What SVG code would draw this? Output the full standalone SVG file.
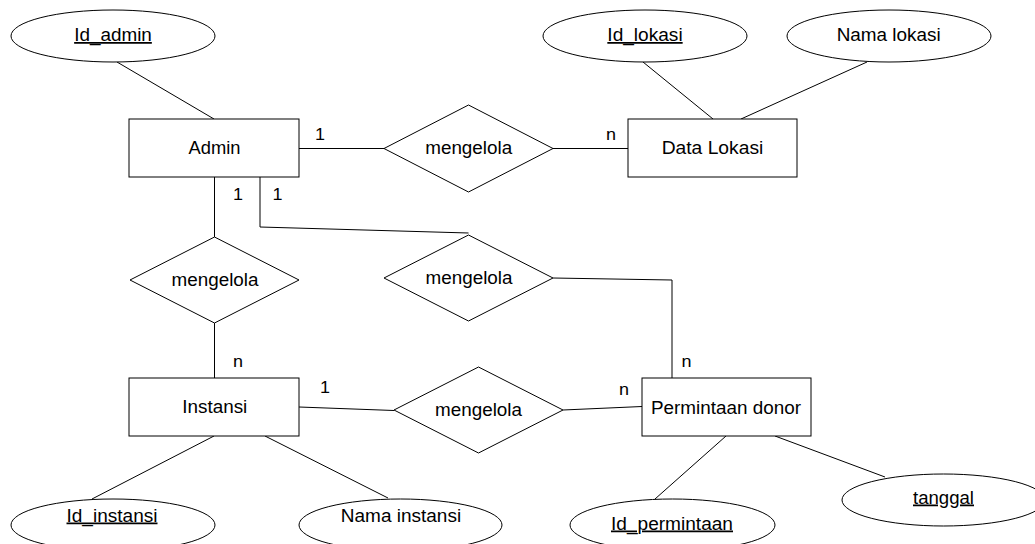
<svg xmlns="http://www.w3.org/2000/svg" width="1035" height="544" viewBox="0 0 1035 544">
  <style>
    .shape { fill: #ffffff; stroke: #000000; stroke-width: 1; }
    .conn { fill: none; stroke: #000000; stroke-width: 1; }
    text { font-family: "Liberation Sans", Arial, sans-serif; fill: #000000; }
    .lbl { font-size: 17.5px; text-anchor: middle; }
    .key { text-decoration: underline; }
    .card { font-size: 16px; text-anchor: middle; }
  </style>
  <rect width="1035" height="544" fill="#ffffff"/>

  <!-- connectors -->
  <g id="connectors">
    <line class="conn" x1="117" y1="62" x2="214" y2="119"/>
    <line class="conn" x1="299" y1="148.5" x2="384" y2="148.5"/>
    <line class="conn" x1="553" y1="148.5" x2="628" y2="148.5"/>
    <line class="conn" x1="643" y1="62" x2="713" y2="119"/>
    <line class="conn" x1="867" y1="62" x2="741" y2="119"/>
    <line class="conn" x1="214.5" y1="177" x2="214.5" y2="237"/>
    <line class="conn" x1="214.5" y1="323" x2="214.5" y2="378"/>
    <polyline class="conn" points="260,177 260,227 468.5,233"/>
    <polyline class="conn" points="553,278 672,280 672,378"/>
    <line class="conn" x1="299" y1="407" x2="394" y2="410.5"/>
    <line class="conn" x1="563" y1="410" x2="642" y2="406.5"/>
    <line class="conn" x1="214" y1="436" x2="92" y2="499"/>
    <line class="conn" x1="265" y1="436" x2="388" y2="498"/>
    <line class="conn" x1="726" y1="436" x2="655" y2="499"/>
    <line class="conn" x1="775" y1="436" x2="885" y2="477"/>
  </g>

  <!-- cardinality labels -->
  <g id="cardinalities">
    <text class="card" x="320" y="139.5" textLength="10" lengthAdjust="spacingAndGlyphs">1</text>
    <text class="card" x="611" y="140" textLength="10" lengthAdjust="spacingAndGlyphs">n</text>
    <text class="card" x="238" y="199.5" textLength="10" lengthAdjust="spacingAndGlyphs">1</text>
    <text class="card" x="277.5" y="199.5" textLength="10" lengthAdjust="spacingAndGlyphs">1</text>
    <text class="card" x="238" y="366.5" textLength="10" lengthAdjust="spacingAndGlyphs">n</text>
    <text class="card" x="686.5" y="366.5" textLength="10" lengthAdjust="spacingAndGlyphs">n</text>
    <text class="card" x="325" y="393" textLength="10" lengthAdjust="spacingAndGlyphs">1</text>
    <text class="card" x="624" y="395" textLength="10" lengthAdjust="spacingAndGlyphs">n</text>
  </g>

  <!-- entities -->
  <g id="admin">
    <rect class="shape" x="129" y="119" width="170" height="58"/>
    <text class="lbl" x="214.5" y="154" textLength="52" lengthAdjust="spacingAndGlyphs">Admin</text>
  </g>
  <g id="data-lokasi">
    <rect class="shape" x="628" y="119" width="169" height="58"/>
    <text class="lbl" x="712.5" y="153.5" textLength="101.6" lengthAdjust="spacingAndGlyphs">Data Lokasi</text>
  </g>
  <g id="instansi">
    <rect class="shape" x="129" y="378" width="170" height="58"/>
    <text class="lbl" x="214.8" y="412.5" textLength="65" lengthAdjust="spacingAndGlyphs">Instansi</text>
  </g>
  <g id="permintaan-donor">
    <rect class="shape" x="642" y="378" width="169" height="58"/>
    <text class="lbl" x="726" y="413.5" textLength="150" lengthAdjust="spacingAndGlyphs">Permintaan donor</text>
  </g>

  <!-- relationships -->
  <g id="rel-admin-lokasi">
    <polygon class="shape" points="384,148.5 468.5,105 553,148.5 468.5,192"/>
    <text class="lbl" x="468.7" y="154" textLength="87" lengthAdjust="spacingAndGlyphs">mengelola</text>
  </g>
  <g id="rel-admin-instansi">
    <polygon class="shape" points="130,280 214.5,237 299,280 214.5,323"/>
    <text class="lbl" x="215" y="286" textLength="87" lengthAdjust="spacingAndGlyphs">mengelola</text>
  </g>
  <g id="rel-admin-permintaan">
    <polygon class="shape" points="384,278 468.5,235 553,278 468.5,321"/>
    <text class="lbl" x="469" y="284" textLength="87" lengthAdjust="spacingAndGlyphs">mengelola</text>
  </g>
  <g id="rel-instansi-permintaan">
    <polygon class="shape" points="394,410 478.5,367 563,410 478.5,453"/>
    <text class="lbl" x="478.5" y="415.5" textLength="87" lengthAdjust="spacingAndGlyphs">mengelola</text>
  </g>

  <!-- attributes -->
  <g id="attr-id-admin">
    <ellipse class="shape" cx="113" cy="36" rx="102" ry="26"/>
    <text class="lbl key" x="113" y="41" textLength="77.7" lengthAdjust="spacingAndGlyphs">Id_admin</text>
  </g>
  <g id="attr-id-lokasi">
    <ellipse class="shape" cx="645" cy="36" rx="102" ry="26"/>
    <text class="lbl key" x="645" y="41" textLength="75.3" lengthAdjust="spacingAndGlyphs">Id_lokasi</text>
  </g>
  <g id="attr-nama-lokasi">
    <ellipse class="shape" cx="889" cy="36" rx="102" ry="26"/>
    <text class="lbl" x="888.7" y="41" textLength="104" lengthAdjust="spacingAndGlyphs">Nama lokasi</text>
  </g>
  <g id="attr-id-instansi">
    <ellipse class="shape" cx="113" cy="525" rx="102" ry="26"/>
    <text class="lbl key" x="112" y="521.5" textLength="91" lengthAdjust="spacingAndGlyphs">Id_instansi</text>
  </g>
  <g id="attr-nama-instansi">
    <ellipse class="shape" cx="400.5" cy="525" rx="101.5" ry="26"/>
    <text class="lbl" x="401" y="521.5" textLength="120.3" lengthAdjust="spacingAndGlyphs">Nama instansi</text>
  </g>
  <g id="attr-id-permintaan">
    <ellipse class="shape" cx="672.5" cy="525" rx="102.5" ry="26"/>
    <text class="lbl key" x="672" y="529.5" textLength="122" lengthAdjust="spacingAndGlyphs">Id_permintaan</text>
  </g>
  <g id="attr-tanggal">
    <ellipse class="shape" cx="943.5" cy="500" rx="101.5" ry="26"/>
    <text class="lbl key" x="943.5" y="503.5" textLength="61" lengthAdjust="spacingAndGlyphs">tanggal</text>
  </g>
</svg>
